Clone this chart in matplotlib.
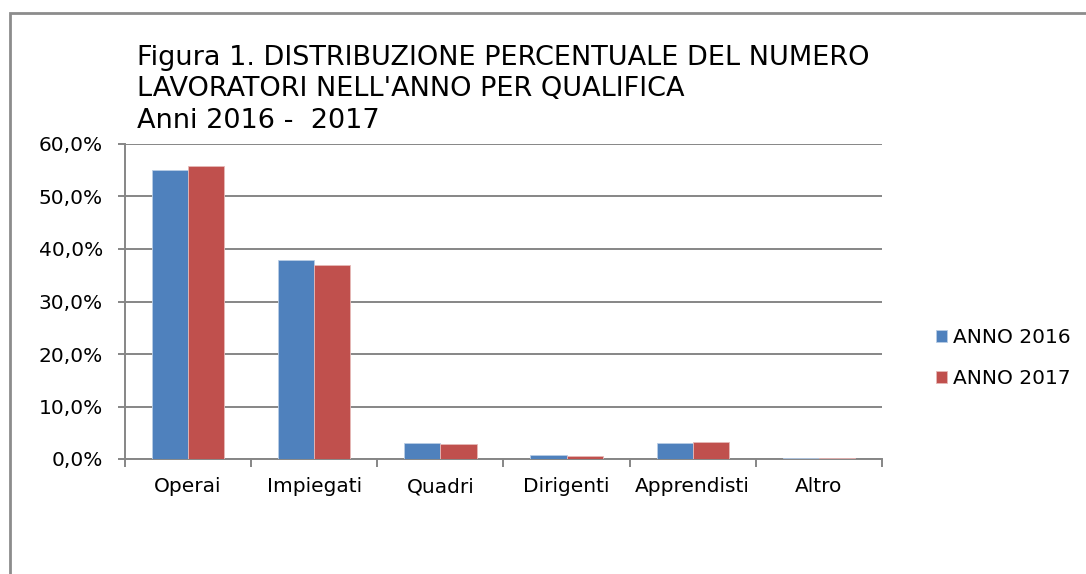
import numpy as np
import matplotlib.pyplot as plt
from matplotlib.patches import Rectangle
from matplotlib.ticker import FuncFormatter

# Dati
categorie = ["Operai", "Impiegati", "Quadri", "Dirigenti", "Apprendisti", "Altro"]
anno_2016 = [55.0, 37.9, 3.0, 0.7, 3.0, 0.15]
anno_2017 = [55.8, 37.0, 2.8, 0.6, 3.3, 0.15]
serie = ["ANNO 2016", "ANNO 2017"]
colori = ["#4F81BD", "#C0504D"]

plt.rcParams["font.family"] = ["DejaVu Sans"]

fig = plt.figure(figsize=(10.86, 5.74), dpi=100)
W, H = 1086, 574

# Bordo dell'area grafico (continua oltre l'immagine)
fig.patches.append(Rectangle((10 / W, -0.1), 1.2, (H - 13) / H + 0.1,
                             transform=fig.transFigure, fill=False,
                             edgecolor="#8c8c8c", linewidth=2))

ax = fig.add_axes([125 / W, 1 - 459 / H, (882 - 125) / W, (459 - 144) / H])

x = np.arange(len(categorie))
w = 0.286
ax.bar(x - w / 2, anno_2016, w, color=colori[0], edgecolor="#b9cde5",
       linewidth=0.6, label=serie[0], zorder=3)
ax.bar(x + w / 2, anno_2017, w, color=colori[1], edgecolor="#e6b9b8",
       linewidth=0.6, label=serie[1], zorder=3)

ax.set_xlim(-0.5, len(categorie) - 0.5)
ax.set_ylim(0, 60)
ax.set_yticks(np.arange(0, 61, 10))
ax.yaxis.set_major_formatter(FuncFormatter(lambda v, p: f"{v:.1f}%".replace(".", ",")))
ax.grid(axis="y", color="#868686", linewidth=1.4, zorder=0)

ax.set_xticks(x)
ax.set_xticklabels(categorie)
ax.set_xticks(np.arange(-0.5, len(categorie)), minor=True)
ax.tick_params(axis="x", which="major", length=0, pad=13, labelsize=14.5)
ax.tick_params(axis="x", which="minor", length=6, color="#868686", width=1.4)
ax.tick_params(axis="y", length=5, color="#868686", width=1.4, labelsize=14.5, pad=11)

for s in ["top", "right"]:
    ax.spines[s].set_visible(False)
for s in ["left", "bottom"]:
    ax.spines[s].set_color("#868686")
    ax.spines[s].set_linewidth(1.4)

fig.text(137 / W, 1 - 45 / H,
         "Figura 1. DISTRIBUZIONE PERCENTUALE DEL NUMERO\n"
         "LAVORATORI NELL'ANNO PER QUALIFICA\n"
         "Anni 2016 -  2017",
         fontsize=19.5, va="top", ha="left", linespacing=1.27)

leg = fig.legend(loc="center left", bbox_to_anchor=(928 / W, 1 - 358 / H), frameon=False,
                 fontsize=14.5, handlelength=0.55, handleheight=0.55,
                 handletextpad=0.3, labelspacing=1.1, borderaxespad=0)

plt.savefig("out.png", dpi=100)
